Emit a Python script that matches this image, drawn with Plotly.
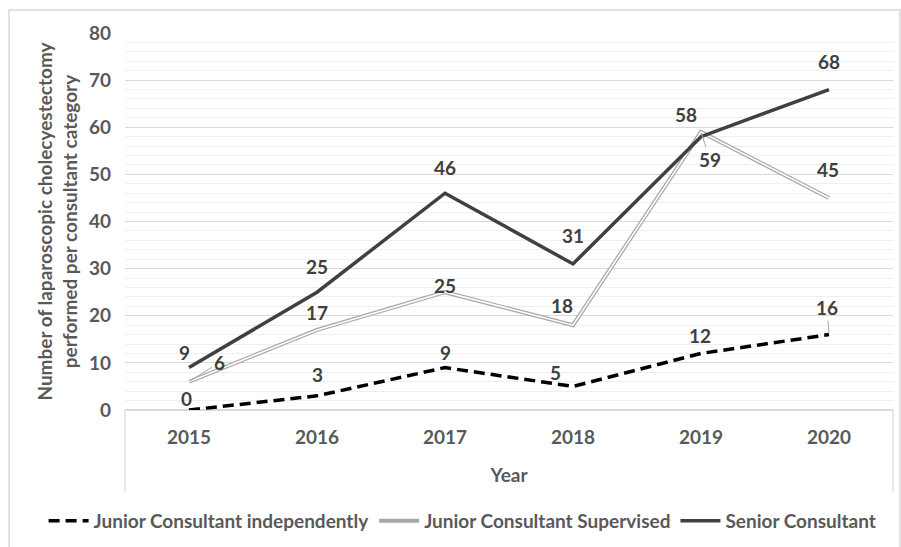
import plotly.graph_objects as go

years = ["2015", "2016", "2017", "2018", "2019", "2020"]
junior_independent = [0, 3, 9, 5, 12, 16]
junior_supervised = [6, 17, 25, 18, 59, 45]
senior = [9, 25, 46, 31, 58, 68]
y_ticks = [0, 10, 20, 30, 40, 50, 60, 70, 80]

series_names = ["Junior Consultant independently", "Junior Consultant Supervised", "Senior Consultant"]

FONT = "Lato"
TXT = "#595959"
FS = 19

fig = go.Figure()

fig.add_trace(go.Scatter(
    x=years, y=junior_independent, mode="lines", name=series_names[0],
    line=dict(color="#000000", width=3.5, dash="11px,6px"),
))
fig.add_trace(go.Scatter(
    x=years, y=junior_supervised, mode="lines", name=series_names[1],
    line=dict(color="#a6a6a6", width=4),
))
fig.add_trace(go.Scatter(
    x=years, y=junior_supervised, mode="lines", showlegend=False, hoverinfo="skip",
    line=dict(color="#ffffff", width=1.6),
))
fig.add_trace(go.Scatter(
    x=years, y=senior, mode="lines", name=series_names[2],
    line=dict(color="#404040", width=3.5),
))

# data label offsets (pixels, right / up) per series/point, and whether a leader line is drawn
off_ind = [(-3, 12, 0), (0, 21, 0), (0, 15, 0), (-18, 14, 0), (-1, 18, 0), (-2, 27, 1)]
off_sup = [(30, 19, 1), (0, 17, 0), (0, 7, 0), (-11, 20, 0), (9, -28, 1), (-1, 28, 0)]
off_sen = [(-5, 15, 0), (0, 26, 0), (0, 26, 0), (0, 28, 0), (-15, 22, 0), (0, 28, 0)]

annotations = []
for vals, offs in ((junior_independent, off_ind), (junior_supervised, off_sup), (senior, off_sen)):
    for i, (v, (dx, dy, lead)) in enumerate(zip(vals, offs)):
        a = dict(
            x=i, y=v, xref="x", yref="y", text=str(v),
            font=dict(family=FONT, size=FS, color="#404040", weight="bold"),
        )
        if lead:
            a.update(showarrow=True, arrowhead=0, arrowwidth=1, arrowcolor="#a6a6a6",
                     ax=dx, ay=-dy, standoff=1)
        else:
            a.update(showarrow=False, xshift=dx, yshift=dy)
        annotations.append(a)

shapes = [
    dict(type="rect", xref="paper", yref="paper", x0=-0.151, x1=1.009, y0=-0.37, y1=1.061,
         line=dict(color="#d9d9d9", width=1.5), layer="below"),
    dict(type="line", xref="paper", yref="paper", x0=0, x1=0, y0=0, y1=-0.2175,
         line=dict(color="#d9d9d9", width=1.2)),
    dict(type="line", xref="paper", yref="paper", x0=1, x1=1, y0=0, y1=-0.2175,
         line=dict(color="#d9d9d9", width=1.2)),
]

fig.update_layout(
    width=901, height=547,
    margin=dict(l=125, r=8, t=33, b=137, autoexpand=False),
    paper_bgcolor="#ffffff", plot_bgcolor="#ffffff",
    font=dict(family=FONT, color=TXT, size=FS),
    showlegend=True,
    legend=dict(orientation="h", xref="paper", yref="paper",
                x=-0.106, xanchor="left", y=-0.2944, yanchor="middle",
                font=dict(family=FONT, size=FS, color=TXT, weight="bold"),
                itemwidth=40, tracegroupgap=0),
    annotations=annotations,
    shapes=shapes,
    xaxis=dict(
        type="category", range=[-0.5, 5.5], showgrid=False, zeroline=False,
        showline=False, ticks="", automargin=False,
        tickfont=dict(family=FONT, size=FS, color=TXT, weight="bold"),
        ticklabelstandoff=14,
        title=dict(text="Year", font=dict(family=FONT, size=FS, color=TXT, weight="bold"), standoff=21),
    ),
    yaxis=dict(
        range=[0, 80], tickvals=y_ticks, showgrid=True, gridcolor="#d9d9d9", gridwidth=1.2,
        zeroline=True, zerolinecolor="#d9d9d9", zerolinewidth=1.5, showline=False, ticks="",
        automargin=False,
        minor=dict(dtick=2, showgrid=True, gridcolor="#efefef", gridwidth=1),
        tickfont=dict(family=FONT, size=FS, color=TXT, weight="bold"),
        ticklabelstandoff=13,
        title=dict(text="Number of laparoscopic cholecyestectomy<br>performed per consultant category",
                   font=dict(family=FONT, size=FS, color=TXT, weight="bold"), standoff=6),
    ),
)

fig.write_html("out.html", config={"displayModeBar": False},
               post_script="document.body.style.margin='0';")
